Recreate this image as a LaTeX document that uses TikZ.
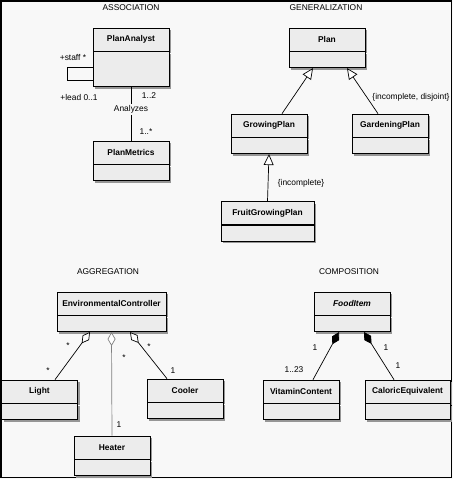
\documentclass[tikz,border=0pt]{standalone}
\usepackage{fontspec}
\setmainfont{Liberation Sans}
\usepackage{tikz}
\usetikzlibrary{arrows.meta,positioning,shadows}
\usepackage{xcolor}
\definecolor{pagegray}{RGB}{248,248,248}
\definecolor{boxgray}{RGB}{236,236,236}
\definecolor{shadegray}{RGB}{150,150,150}

\begin{document}
\begin{tikzpicture}[x=1pt, y=-1pt, >=Latex,
    every node/.style={font=\fontsize{8.4}{10}\selectfont},
    boxshade/.style={drop shadow={shadow xshift=2pt, shadow yshift=-2pt, fill=shadegray, opacity=1}},
    umlname/.style={draw, line width=0.7pt, fill=boxgray, boxshade, minimum width=76pt, minimum height=23pt,
      inner sep=0pt, font=\fontsize{8.4}{10}\selectfont\bfseries},
    umlattr/.style={draw, line width=0.7pt, fill=boxgray, boxshade, minimum width=76pt, minimum height=16pt,
      inner sep=0pt, below=0pt of #1},
    assoc/.style={line width=0.7pt},
    inherit/.style={line width=0.7pt, -{Triangle[open, length=11pt, width=10pt, fill=white]}},
    aggr/.style={line width=0.7pt, {Diamond[open, length=14pt, width=8pt, fill=white]}-},
    compo/.style={line width=0.7pt, {Diamond[length=14pt, width=8pt]}-},
    mult/.style={inner sep=1pt}]
    \useasboundingbox (0,0) rectangle (453,479);
    \fill[pagegray] (0,0) rectangle (453,479);
    \draw[line width=1.5pt] (1,1) rectangle (451.5,477.5);

    % association
    \node (t-assoc) at (131, 8) {ASSOCIATION};
    \node[umlname] (analyst) at (131, 39.5) {PlanAnalyst};
    \node[umlattr=analyst, minimum height=35pt] (analyst-a) {};
    \node[umlname] (metrics) at (131, 152.5) {PlanMetrics};
    \node[umlattr=metrics] (metrics-a) {};
    \draw[assoc] ([yshift=1.5pt]analyst-a.west) -- ++(-25,0) -- ++(0,13) -- ([yshift=-11.5pt]analyst-a.west);
    \draw[assoc] (analyst-a.south) -- (metrics.north)
      node[pos=0.42, fill=pagegray, inner sep=1.5pt] (analyzes) {Analyzes};
    \node[mult] (m-staff) at (73, 58) {+staff *};
    \node[mult] (m-lead) at (79, 97) {+lead 0..1};
    \node[mult] (m-two) at (149, 96) {1..2};
    \node[mult] (m-many) at (146, 132) {1..*};

    % generalization
    \node (t-gen) at (326, 8) {GENERALIZATION};
    \node[umlname] (plan) at (327, 39.5) {Plan};
    \node[umlattr=plan] (plan-a) {};
    \node[umlname] (growing) at (269, 125.5) {GrowingPlan};
    \node[umlattr=growing] (growing-a) {};
    \node[umlname] (gardening) at (390, 125.5) {GardeningPlan};
    \node[umlattr=gardening] (gardening-a) {};
    \node[umlname, minimum width=93pt] (fruit) at (267.5, 213) {FruitGrowingPlan};
    \node[umlattr=fruit, minimum width=93pt] (fruit-a) {};
    \draw[inherit] ([xshift=13pt]growing.north) -- ([xshift=-14pt]plan-a.south);
    \draw[inherit] ([xshift=-12pt]gardening.north) -- ([xshift=20pt]plan-a.south);
    \draw[inherit] (fruit.north) -- (growing-a.south);
    \node (c-disjoint) at (411, 97) {\{incomplete, disjoint\}};
    \node (c-incomplete) at (301, 183) {\{incomplete\}};

    % aggregation
    \node (t-aggr) at (108, 272) {AGGREGATION};
    \node[umlname, minimum width=109pt] (controller) at (111.5, 303.5) {EnvironmentalController};
    \node[umlattr=controller, minimum width=109pt] (controller-a) {};
    \node[umlname] (light) at (39.5, 391.5) {Light};
    \node[umlattr=light] (light-a) {};
    \node[umlname] (heater) at (112, 447.5) {Heater};
    \node[umlattr=heater] (heater-a) {};
    \node[umlname] (cooler) at (185, 390.5) {Cooler};
    \node[umlattr=cooler] (cooler-a) {};
    \draw[aggr] ([xshift=-21.5pt]controller-a.south) -- ([xshift=15.5pt]light.north);
    \draw[aggr, draw=gray] (controller-a.south) -- (heater.north);
    \draw[aggr] ([xshift=18.5pt]controller-a.south) -- ([xshift=-18pt]cooler.north);
    \node[mult] (m-light1) at (68, 346) {*};
    \node[mult] (m-light2) at (48, 371) {*};
    \node[mult] (m-heater1) at (124, 358) {*};
    \node[mult] (m-heater2) at (119, 425) {1};
    \node[mult] (m-cooler1) at (149, 347) {*};
    \node[mult] (m-cooler2) at (173, 371) {1};

    % composition
    \node (t-compo) at (349, 272) {COMPOSITION};
    \node[umlname, font=\fontsize{8.4}{10}\selectfont\bfseries\itshape] (food) at (352, 303.5) {FoodItem};
    \node[umlattr=food] (food-a) {};
    \node[umlname] (vitamin) at (301, 391.5) {VitaminContent};
    \node[umlattr=vitamin] (vitamin-a) {};
    \node[umlname, minimum width=85pt] (caloric) at (407.5, 391.5) {CaloricEquivalent};
    \node[umlattr=caloric, minimum width=85pt] (caloric-a) {};
    \draw[compo] ([xshift=-13pt]food-a.south) -- ([xshift=12pt]vitamin.north);
    \draw[compo] ([xshift=12pt]food-a.south) -- ([xshift=-13.5pt]caloric.north);
    \node[mult] (m-vit1) at (315, 348) {1};
    \node[mult] (m-vit2) at (294, 370) {1..23};
    \node[mult] (m-cal1) at (386, 348) {1};
    \node[mult] (m-cal2) at (398, 366) {1};
\end{tikzpicture}
\end{document}
